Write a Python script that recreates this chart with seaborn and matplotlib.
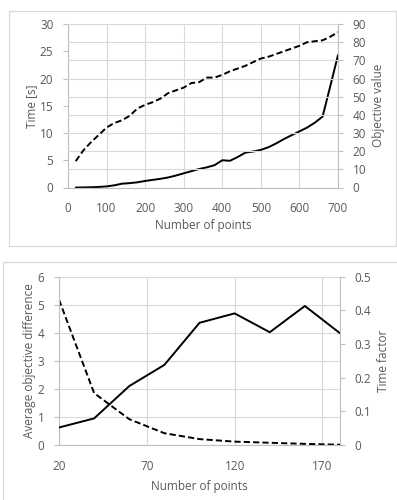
import matplotlib.pyplot as plt
import seaborn as sns
import pandas as pd
from matplotlib.patches import Rectangle

# Top chart: time and objective value vs number of points
top_points = [20, 40, 60, 80, 100, 120, 140, 160, 180, 200, 220, 240, 260, 280, 300,
              320, 340, 360, 380, 400, 420, 440, 460, 480, 500, 520, 540, 560, 580,
              600, 620, 640, 660, 680, 700]
top_time = [0.0, 0.02, 0.05, 0.1, 0.2, 0.4, 0.7, 0.8, 0.95, 1.2, 1.4, 1.6, 1.85, 2.2,
            2.6, 3.0, 3.4, 3.7, 4.1, 5.0, 4.9, 5.6, 6.4, 6.6, 6.9, 7.4, 8.1, 8.9, 9.6,
            10.3, 11.0, 11.9, 13.0, 18.6, 24.3]
top_objective = [14.5, 20.5, 25, 29, 33, 35.5, 37, 39.5, 43.5, 45.5, 47, 49, 52, 53.5,
                 55, 57.5, 58, 60.5, 60.5, 62, 64, 65.5, 67, 69, 71, 72, 73.5, 75, 76.5,
                 78, 80, 80.5, 81, 83, 85.5]

# Bottom chart: objective difference and time factor vs number of points
bottom_points = [20, 40, 60, 80, 100, 120, 140, 160, 180]
bottom_obj_diff = [5.18, 1.85, 0.92, 0.42, 0.21, 0.12, 0.08, 0.04, 0.01]
bottom_time_factor = [0.052, 0.079, 0.175, 0.238, 0.363, 0.391, 0.335, 0.413, 0.332]

top_df = pd.DataFrame({'n': top_points, 'time': top_time, 'obj': top_objective})
bot_df = pd.DataFrame({'n': bottom_points, 'diff': bottom_obj_diff, 'factor': bottom_time_factor})

sns.set_style("white")
plt.rcParams['font.family'] = ['Open Sans', 'DejaVu Sans']

TXT = '#595959'
GRID = '#d9d9d9'
SPINE = '#bfbfbf'
FS = 8.5
DASH = (0, (3.2, 1.6))

fig = plt.figure(figsize=(3.97, 5.0), dpi=100)
W, H = 397.0, 500.0

# chart area borders
fig.patches.append(Rectangle((9 / W, 1 - 246 / H), 387 / W, 235 / H, transform=fig.transFigure,
                             fill=False, edgecolor=GRID, linewidth=0.9))
fig.patches.append(Rectangle((3 / W, -0.01), 396 / W, 1 - 262 / H + 0.01, transform=fig.transFigure,
                             fill=False, edgecolor=GRID, linewidth=0.9))


def style_axes(ax, ax2):
    for a in (ax, ax2):
        for s in a.spines.values():
            s.set_visible(False)
        a.tick_params(axis='both', colors=SPINE, labelcolor=TXT, labelsize=FS,
                      length=3.5, width=0.8, pad=7)
    ax.spines['left'].set_visible(True)
    ax.spines['left'].set_color(SPINE)
    ax.spines['bottom'].set_visible(True)
    ax.spines['bottom'].set_color(SPINE)
    ax2.spines['right'].set_visible(True)
    ax2.spines['right'].set_color(SPINE)
    ax.set_facecolor('none')
    ax2.set_facecolor('none')


# ---- top chart ----
ax1 = fig.add_axes([68 / W, 1 - 187.5 / H, 270 / W, 163.5 / H])
ax1b = ax1.twinx()
sns.lineplot(data=top_df, x='n', y='time', ax=ax1, color='black', linewidth=1.4)
sns.lineplot(data=top_df, x='n', y='obj', ax=ax1b, color='black', linewidth=1.4, linestyle=DASH)
ax1.set_xlim(0, 700)
ax1.set_ylim(0, 30)
ax1b.set_ylim(0, 90)
ax1.set_xticks(range(0, 701, 100))
ax1.set_yticks(range(0, 31, 5))
ax1b.set_yticks(range(0, 91, 10))
ax1.grid(False)
ax1b.grid(False)
ax1b.yaxis.grid(True, color=GRID, linewidth=0.8)
ax1.xaxis.grid(True, color=GRID, linewidth=0.8)
style_axes(ax1, ax1b)
ax1.set_xlabel('Number of points', fontsize=FS, color=TXT, labelpad=3)
ax1.set_ylabel('Time [s]', fontsize=FS, color=TXT, labelpad=1)
ax1b.set_ylabel('Objective value', fontsize=FS, color=TXT, labelpad=4)

# ---- bottom chart ----
ax2 = fig.add_axes([59 / W, 1 - 445 / H, 281 / W, 168.3 / H])
ax2b = ax2.twinx()
sns.lineplot(data=bot_df, x='n', y='diff', ax=ax2, color='black', linewidth=1.4, linestyle=DASH)
sns.lineplot(data=bot_df, x='n', y='factor', ax=ax2b, color='black', linewidth=1.4)
ax2.set_xlim(20, 180)
ax2.set_ylim(0, 6)
ax2b.set_ylim(0, 0.5)
ax2.set_xticks([20, 70, 120, 170])
ax2.set_yticks(range(0, 7))
ax2b.set_yticks([0, 0.1, 0.2, 0.3, 0.4, 0.5])
ax2b.set_yticklabels(['0', '0.1', '0.2', '0.3', '0.4', '0.5'])
ax2.grid(False)
ax2b.grid(False)
ax2.yaxis.grid(True, color=GRID, linewidth=0.8)
ax2.xaxis.grid(True, color=GRID, linewidth=0.8)
style_axes(ax2, ax2b)
ax2.set_xlabel('Number of points', fontsize=FS, color=TXT, labelpad=5)
ax2.set_ylabel('Average objective difference', fontsize=FS, color=TXT, labelpad=1)
ax2b.set_ylabel('Time factor', fontsize=FS, color=TXT, labelpad=4)

fig.savefig('out.png', dpi=100, facecolor='white')
